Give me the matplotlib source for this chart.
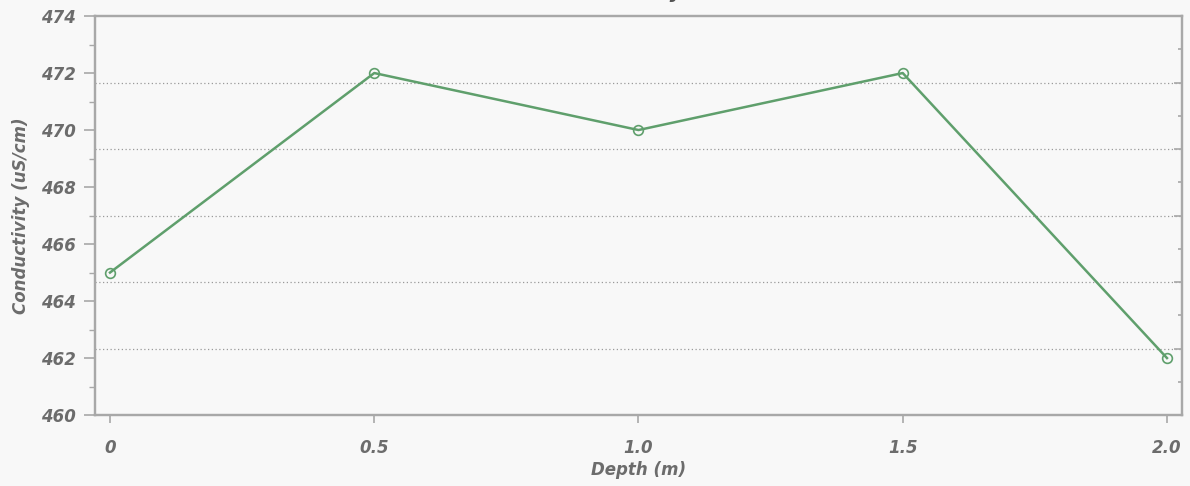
import matplotlib
matplotlib.use("Agg")
import matplotlib.pyplot as plt
from matplotlib.ticker import MultipleLocator

# conductivity profile readings
depth = [0.0, 0.5, 1.0, 1.5, 2.0]
conductivity = [465, 472, 470, 472, 462]
x_ticks = [0, 0.5, 1.0, 1.5, 2.0]
x_tick_labels = ["0", "0.5", "1.0", "1.5", "2.0"]
y_ticks = [460, 462, 464, 466, 468, 470, 472, 474]

grey = "#6c6c6c"
spine_grey = "#a8a8a8"
line_green = "#5f9f6c"
font = {"family": "DejaVu Sans", "weight": "bold", "style": "italic", "color": grey}

fig = plt.figure(figsize=(11.9, 4.86), dpi=100, facecolor="#f8f8f8")
ax = fig.add_axes([0.0798, 0.146, 0.9135, 0.821])
ax.set_facecolor("#fbfbfb")

ax.plot(depth, conductivity, color=line_green, lw=1.8, marker="o", ms=7,
        mfc="none", mec=line_green, mew=1.2, zorder=3)

ax.set_xlim(-0.0285, 2.0285)
ax.set_ylim(460, 474)
ax.set_xticks(x_ticks)
ax.set_xticklabels(x_tick_labels)
ax.set_yticks(y_ticks)
ax.yaxis.set_minor_locator(MultipleLocator(1))
ax.tick_params(axis="both", colors=spine_grey, labelcolor=grey, labelsize=12,
               direction="out", length=8, width=1.2, pad=6)
ax.tick_params(axis="y", which="minor", colors=spine_grey, length=4, width=1.0)
ax.tick_params(axis="x", length=6, pad=11)
for lab in ax.get_xticklabels() + ax.get_yticklabels():
    lab.set_fontfamily("DejaVu Sans")
    lab.set_fontweight("bold")
    lab.set_fontstyle("italic")

for s in ax.spines.values():
    s.set_color(spine_grey)
    s.set_linewidth(1.6)

ax.set_xlabel("Depth (m)", fontsize=12, labelpad=3, fontdict=font)
ax.set_ylabel("Conductivity (uS/cm)", fontsize=12, labelpad=8, fontdict=font)

# secondary scale on the right: six equal bands with dotted grid
ax2 = ax.twinx()
ax2.set_ylim(0, 6)
ax2.set_yticks([1, 2, 3, 4, 5])
ax2.yaxis.set_minor_locator(MultipleLocator(0.5))
ax2.tick_params(axis="y", which="both", direction="in", colors=spine_grey,
                labelright=False, length=6, width=1.2)
ax2.tick_params(axis="y", which="minor", length=3)
ax2.grid(axis="y", which="major", color="#9a9a9a", ls=(0, (1, 2)), lw=0.9)
ax2.set_axisbelow(True)
for s in ax2.spines.values():
    s.set_color(spine_grey)
    s.set_linewidth(1.6)
ax.set_zorder(ax2.get_zorder() + 1)
ax.patch.set_visible(False)
ax2.patch.set_facecolor("#fbfbfb")

fig.text(0.574, 1.004, "Conductivity", ha="right", va="baseline",
         fontsize=14, fontfamily="DejaVu Sans", fontweight="bold",
         fontstyle="italic", color="#555555")

fig.savefig("out.png", dpi=100, facecolor=fig.get_facecolor())
